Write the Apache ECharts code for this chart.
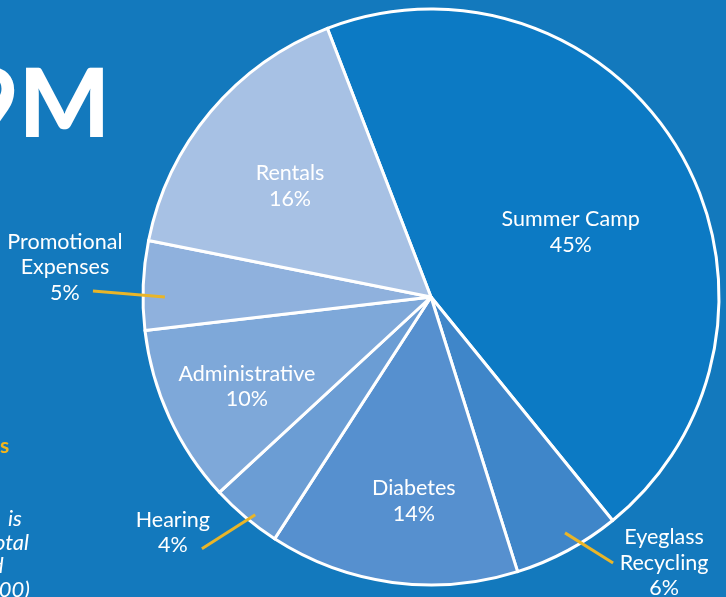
<!DOCTYPE html>
<html><head><meta charset="utf-8">
<script src="https://cdn.jsdelivr.net/npm/echarts@6/dist/echarts.min.js"></script>
<style>html,body{margin:0;padding:0;background:#1379bd;}#c{width:726px;height:597px;}</style>
</head><body><div id="c"></div>
<script>
// ---- data ----
const categories = ['Summer Camp', 'Eyeglass\nRecycling', 'Diabetes', 'Hearing', 'Administrative', 'Promotional\nExpenses', 'Rentals'];
const shares = [45, 6, 14, 4, 10, 5, 16];

// ---- styles ----
const sliceColors = ['#0c7ac4', '#3f86c9', '#5690cf', '#6b9dd4', '#7ea8d9', '#8fb1dd', '#a7c1e4'];
const CX = 431, CY = 297, R = 288, START = 111.1; // echarts startAngle (deg, ccw from 3 o'clock)
// inside labels: [radius ratio, angle tweak deg]
const insideLabel = { 0: [0.535, 5.2], 6: [0.623, -1.9], 4: [0.711, -1.3], 2: [0.711, -2.9] };
// outside labels: [startAngleTweak, startRatio, endAngleTweak, endRatio, labelDx, labelDy]
const outsideLabel = { 5: [-2.3, 0.924, -1.3, 1.174, -28, -24], 3: [-1.2, 0.972, 2.2, 1.182, -29, -16], 1: [-1.3, 0.942, -6.1, 1.119, 51, 0] };

const total = shares.reduce((a, b) => a + b, 0);
const firstCw = 90 - START; // clockwise-from-top angle of first slice start
const midAngles = [];
let acc = 0;
shares.forEach(v => { midAngles.push(firstCw + (acc + v / 2) / total * 360); acc += v; });
function pt(theta, r) { const t = theta * Math.PI / 180; return [CX + r * Math.sin(t), CY - r * Math.cos(t)]; }

const baseSeries = {
  type: 'pie',
  center: [CX, CY],
  radius: [0, R],
  startAngle: START,
  clockwise: true,
  avoidLabelOverlap: false,
  silent: true
};

const chart = echarts.init(document.getElementById('c'));
chart.setOption({
  backgroundColor: '#1379bd',
  animation: false,
  graphic: [
    { type: 'text', right: 726 - 110, top: 58, style: { text: '$1.9M', fill: '#ffffff', font: '900 96px Lato', textAlign: 'right' } },
    { type: 'text', left: 0, top: 436, style: { text: 's', fill: '#f2b51c', font: 'bold 21px Lato', x: -3 } },
    { type: 'text', left: 8, top: 508, style: { text: 'is', fill: '#ffffff', font: 'italic 22px Lato' } },
    { type: 'text', left: -6, top: 532, style: { text: 'otal', fill: '#ffffff', font: 'italic 22px Lato' } },
    { type: 'text', left: -8, top: 555, style: { text: 'd', fill: '#ffffff', font: 'italic 22px Lato' } },
    { type: 'text', left: -14, top: 579, style: { text: '000)', fill: '#ffffff', font: 'italic 22px Lato' } }
  ],
  series: [
    Object.assign({}, baseSeries, {
      z: 2,
      itemStyle: { borderColor: '#ffffff', borderWidth: 3 },
      label: { show: false },
      labelLine: { show: false },
      data: categories.map((c, i) => ({ name: c, value: shares[i], itemStyle: { color: sliceColors[i] } }))
    }),
    Object.assign({}, baseSeries, {
      z: 5,
      itemStyle: { color: 'rgba(0,0,0,0)', borderWidth: 0 },
      label: {
        show: true,
        color: '#ffffff',
        fontFamily: 'Lato',
        fontSize: 21.5,
        lineHeight: 25.5,
        align: 'center',
        formatter: p => p.name + '\n' + p.value + '%'
      },
      labelLine: { show: true, length: 10, length2: 0, lineStyle: { color: '#e9b528', width: 3 } },
      labelLayout: function (params) {
        const i = params.dataIndex;
        if (insideLabel[i]) {
          const [ratio, dt] = insideLabel[i];
          const p = pt(midAngles[i] + dt, R * ratio);
          return { x: p[0], y: p[1], align: 'center', verticalAlign: 'middle' };
        }
        const o = outsideLabel[i];
        const s = pt(midAngles[i] + o[0], R * o[1]);
        const e = pt(midAngles[i] + o[2], R * o[3]);
        return { x: e[0] + o[4], y: e[1] + o[5], align: 'center', verticalAlign: 'middle', labelLinePoints: [s, e, e] };
      },
      data: categories.map((c, i) => ({
        name: c, value: shares[i],
        label: { position: outsideLabel[i] ? 'outside' : 'inside' },
        labelLine: { show: !!outsideLabel[i] }
      }))
    })
  ]
});
</script></body></html>
